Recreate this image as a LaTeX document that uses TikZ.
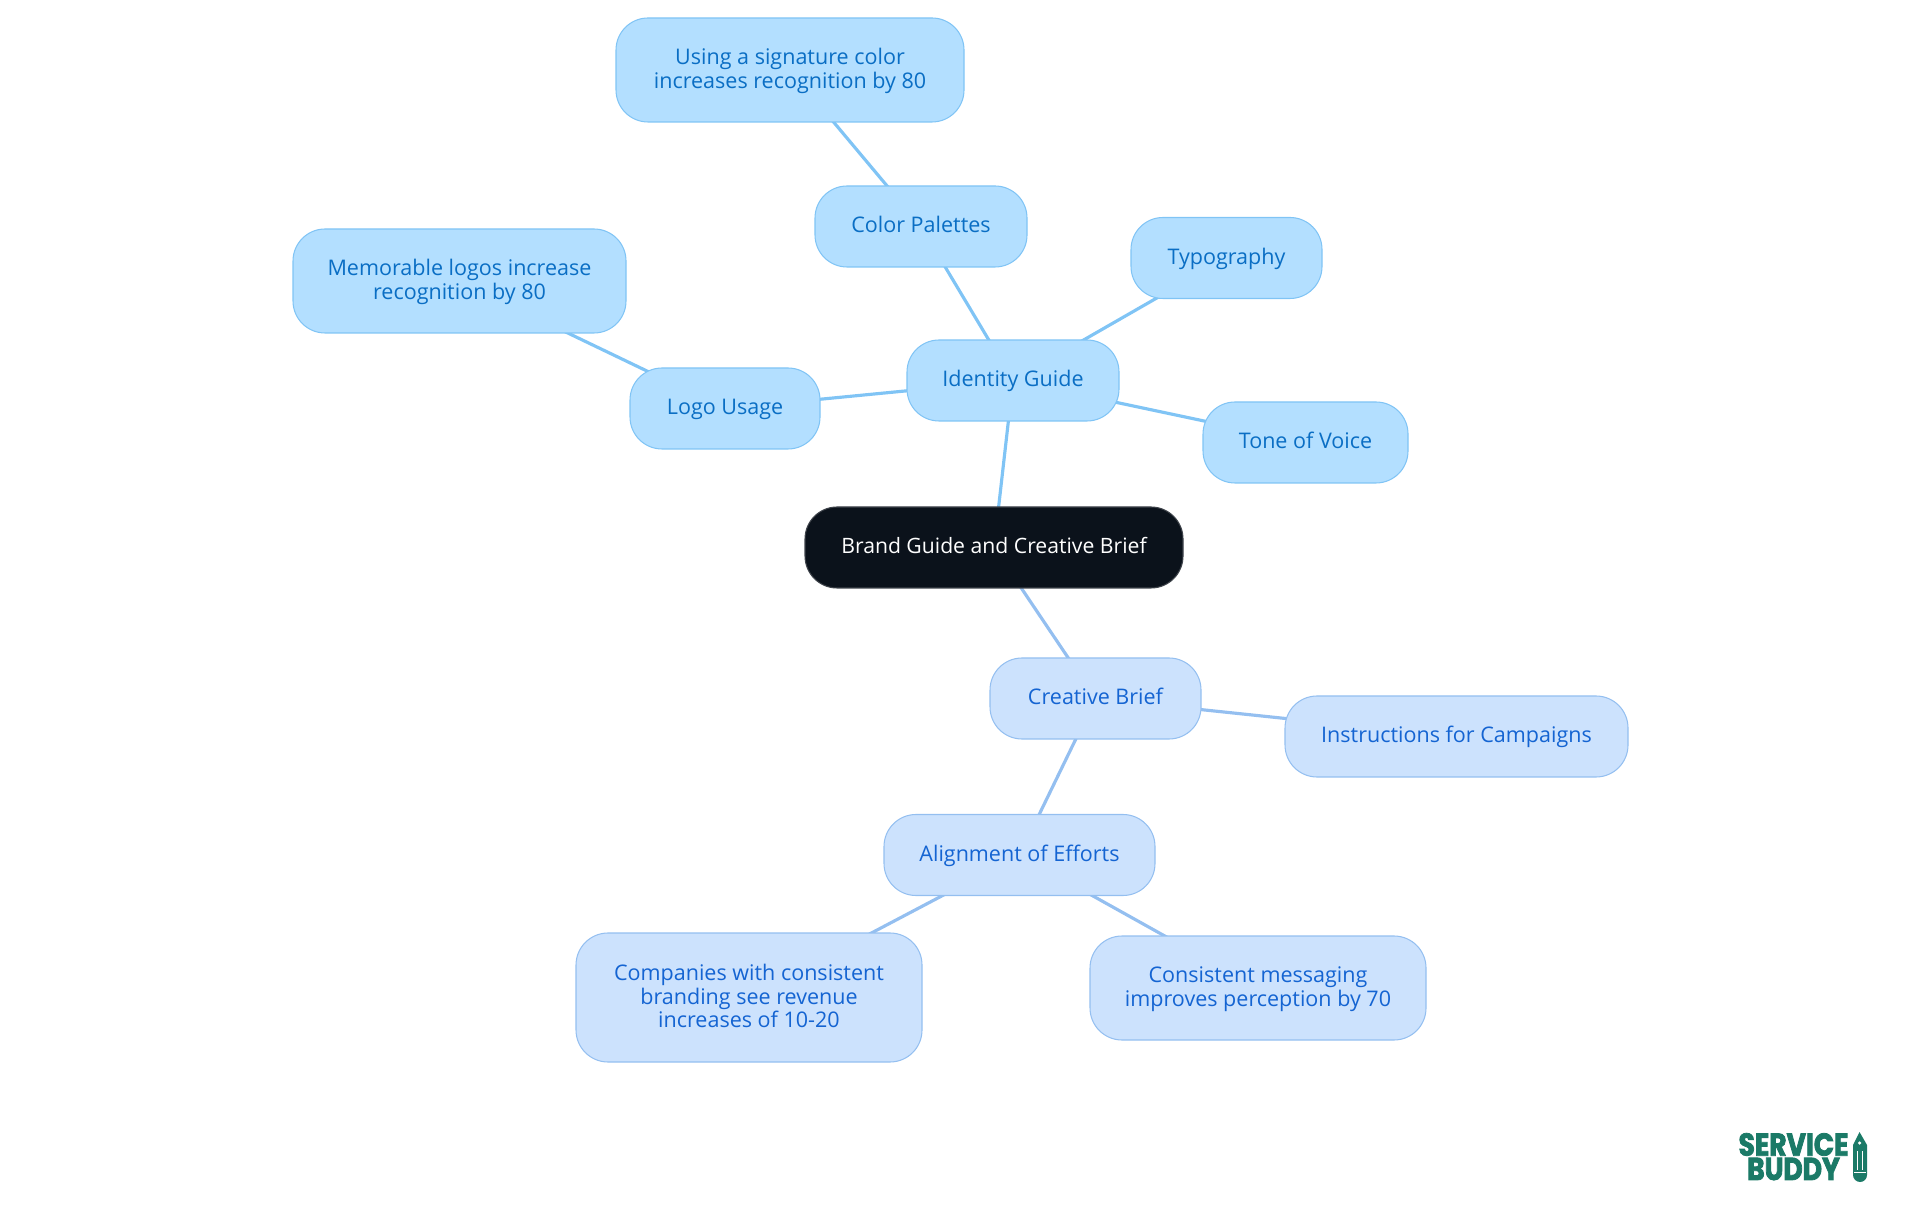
\documentclass[tikz,border=0pt]{standalone}
\usepackage{fontspec}
\usepackage{xcolor}
\setmainfont{Open Sans}
\newfontfamily\logofont[FakeStretch=0.84,FakeBold=2.5]{Poppins}
\usetikzlibrary{backgrounds}
\definecolor{rootfill}{HTML}{0B121B}
\definecolor{rootline}{HTML}{3F444B}
\definecolor{topfill}{HTML}{B3DFFF}
\definecolor{topline}{HTML}{80C4F5}
\definecolor{toptext}{HTML}{0A6EC4}
\definecolor{lowfill}{HTML}{CCE2FD}
\definecolor{lowline}{HTML}{94BFF0}
\definecolor{lowtext}{HTML}{1464D2}
\definecolor{logogreen}{HTML}{1B7A67}
\tikzset{
	idea/.style={rectangle,rounded corners=0.64cm,minimum height=1.62cm,inner sep=0pt,align=center,
		line width=0.6pt,font=\fontsize{12.25}{13.4}\selectfont,text height=9.5pt,text depth=2.6pt},
	twolines/.style={minimum height=2.08cm,text height=23.4pt},
	threelines/.style={minimum height=2.58cm,text height=36.8pt},
	rootidea/.style={idea,fill=rootfill,draw=rootline,text=white,font=\fontsize{12.05}{13.4}\selectfont},
	topidea/.style={idea,fill=topfill,draw=topline,text=toptext},
	lowidea/.style={idea,fill=lowfill,draw=lowline,text=lowtext},
	topbranch/.style={draw=topline,line width=1.8pt},
	lowbranch/.style={draw=lowline,line width=1.8pt},
	logotext/.style={text=logogreen,inner sep=0pt,font=\logofont\bfseries\fontsize{18}{18}\selectfont}
}
\begin{document}
\begin{tikzpicture}
	\useasboundingbox (0,0) rectangle (38.4,24.3);
	%
	\node[rootidea,minimum width=7.56cm] (brand) at (19.88,13.35) {Brand Guide and Creative Brief};
	\node[topidea,minimum width=4.24cm] (identity) at (20.26,16.69) {Identity Guide};
	\node[topidea,minimum width=4.24cm] (palettes) at (18.42,19.77) {Color Palettes};
	\node[topidea,minimum width=3.82cm] (typo) at (24.53,19.14) {Typography};
	\node[topidea,minimum width=4.10cm] (tone) at (26.11,15.45) {Tone of Voice};
	\node[topidea,minimum width=3.80cm] (logo) at (14.50,16.13) {Logo Usage};
	\node[topidea,twolines,minimum width=6.96cm] (signature) at (15.80,22.90) {Using a signature color\\increases recognition by 80};
	\node[topidea,twolines,minimum width=6.66cm] (memorable) at (9.19,18.68) {Memorable logos increase\\recognition by 80};
	%
	\node[lowidea,minimum width=4.22cm] (brief) at (21.91,10.33) {Creative Brief};
	\node[lowidea,minimum width=6.86cm] (campaigns) at (29.13,9.57) {Instructions for Campaigns};
	\node[lowidea,minimum width=5.42cm] (align) at (20.39,7.20) {Alignment of Efforts};
	\node[lowidea,threelines,minimum width=6.92cm] (companies) at (14.98,4.35) {Companies with consistent\\branding see revenue\\increases of 10-20};
	\node[lowidea,twolines,minimum width=6.72cm] (messaging) at (25.16,4.54) {Consistent messaging\\improves perception by 70};
	%
	\begin{pgfonlayer}{background}
		\draw[topbranch] (brand.center) -- (identity.center);
		\draw[topbranch] (identity.center) -- (palettes.center);
		\draw[topbranch] (identity.center) -- (typo.center);
		\draw[topbranch] (identity.center) -- (tone.center);
		\draw[topbranch] (identity.center) -- (logo.center);
		\draw[topbranch] (palettes.center) -- (signature.center);
		\draw[topbranch] (logo.center) -- (memorable.center);
		\draw[lowbranch] (brand.center) -- (brief.center);
		\draw[lowbranch] (brief.center) -- (campaigns.center);
		\draw[lowbranch] (brief.center) -- (align.center);
		\draw[lowbranch] (align.center) -- (companies.center);
		\draw[lowbranch] (align.center) -- (messaging.center);
	\end{pgfonlayer}
	%
	\node[logotext] (service) at (35.87,1.41) {SERVICE};
	\node[logotext] (buddy) at (35.87,0.92) {BUDDY};
	% pencil
	\fill[logogreen] (37.19,1.66) -- (37.06,1.40) -- (37.06,0.80) arc[start angle=180,end angle=360,radius=0.14] -- (37.34,1.40) -- cycle;
	\fill[white] (37.19,1.44) circle (0.035);
	\draw[white,line width=0.5pt] (37.14,1.28) -- (37.14,0.90);
	\draw[white,line width=0.5pt] (37.24,1.28) -- (37.24,0.90);
	\draw[white,line width=0.5pt] (37.08,0.86) -- (37.32,0.86);
\end{tikzpicture}
\end{document}
